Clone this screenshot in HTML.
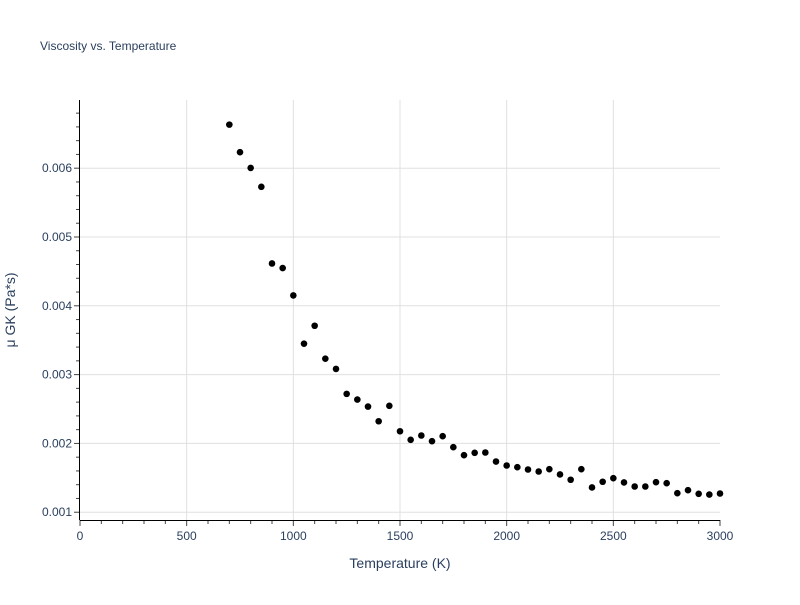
<!DOCTYPE html>
<html><head><meta charset="utf-8"><style>
body{margin:0;background:#fff;font-family:"Liberation Sans",Arial,sans-serif}
svg text{font-family:"Liberation Sans",Arial,sans-serif}
</style></head><body>
<svg id="chart" width="800" height="600" xmlns="http://www.w3.org/2000/svg">
<rect width="800" height="600" fill="#fff"/>
<text x="40" y="50" font-size="12" fill="#2a3f5f">Viscosity vs. Temperature</text>
<g id="grid"></g><g id="axes"></g><g id="points"></g>
<text x="400" y="568" text-anchor="middle" font-size="14" fill="#2a3f5f">Temperature (K)</text>
<text transform="translate(15,310) rotate(-90)" text-anchor="middle" font-size="14" fill="#2a3f5f">μ GK (Pa*s)</text>
</svg>
<script>
const temps=[700,750,800,850,900,950,1000,1050,1100,1150,1200,1250,1300,1350,1400,1450,1500,1550,1600,1650,1700,1750,1800,1850,1900,1950,2000,2050,2100,2150,2200,2250,2300,2350,2400,2450,2500,2550,2600,2650,2700,2750,2800,2850,2900,2950,3000];
const viscosity=[0.006633,0.006232,0.006004,0.005729,0.004615,0.004549,0.004151,0.00345,0.00371,0.003232,0.003083,0.00272,0.002637,0.002535,0.002322,0.002546,0.002177,0.002052,0.002115,0.002032,0.002105,0.001945,0.001829,0.001863,0.001868,0.001737,0.001679,0.001654,0.001621,0.001592,0.001626,0.001549,0.001472,0.001626,0.00136,0.001443,0.001495,0.001433,0.001374,0.001374,0.001437,0.001422,0.001277,0.00132,0.001268,0.001257,0.001272];
const xTicks=[0,500,1000,1500,2000,2500,3000];
const xTickLabels=["0","500","1000","1500","2000","2500","3000"];
const yTicks=[0.001,0.002,0.003,0.004,0.005,0.006];
const yTickLabels=["0.001","0.002","0.003","0.004","0.005","0.006"];
const X0=80,X1=720,Y0=100,Y1=520,xmin=0,xmax=3000,ymin=0.000887,ymax=0.006991;
const sx=v=>X0+(v-xmin)/(xmax-xmin)*(X1-X0);
const sy=v=>Y1-(v-ymin)/(ymax-ymin)*(Y1-Y0);
const NS="http://www.w3.org/2000/svg";
function mk(tag,attrs,parent){const e=document.createElementNS(NS,tag);for(const k in attrs)e.setAttribute(k,attrs[k]);parent.appendChild(e);return e;}
const grid=document.getElementById('grid'),axes=document.getElementById('axes'),pts=document.getElementById('points');
xTicks.forEach((t,i)=>{
 if(t>0&&t<3000){const g=mk('line',{x1:sx(t),x2:sx(t),y1:Y0,y2:Y1,stroke:'#e0e0e0','stroke-width':1},grid);
 
 }
 const l=mk('text',{x:sx(t),y:540,'text-anchor':'middle','font-size':12,fill:'#2a3f5f'},axes);l.textContent=xTickLabels[i];
 
 
});
yTicks.forEach((t,i)=>{
 const g=mk('line',{x1:X0,x2:X1,y1:sy(t),y2:sy(t),stroke:'#e0e0e0','stroke-width':1},grid);
 
 
 const l=mk('text',{x:72,y:sy(t)+4,'text-anchor':'end','font-size':12,fill:'#2a3f5f'},axes);l.textContent=yTickLabels[i];
 
 
});
for(let t=0;t<=3000;t+=100){mk('line',{x1:sx(t),x2:sx(t),y1:Y1,y2:Y1+(t%500===0?6:4),stroke:'#444','stroke-width':1},axes);}
for(let k=5;k<=34;k++){const v=k*0.0002;if(v<ymin||v>ymax)continue;mk('line',{x1:X0-(k%5===0?6:4),x2:X0,y1:sy(v),y2:sy(v),stroke:'#444','stroke-width':1},axes);}
const ax=mk('line',{x1:X0-0.5,x2:X0-0.5,y1:Y0,y2:Y1,stroke:'#000','stroke-width':1},axes);


const bx=mk('line',{x1:X0,x2:X1,y1:Y1+0.5,y2:Y1+0.5,stroke:'#000','stroke-width':1},axes);


temps.forEach((t,i)=>{
 const c=mk('circle',{cx:sx(t),cy:sy(viscosity[i]),r:3.3,fill:'#000'},pts);
 
 
});
</script>
</body></html>
